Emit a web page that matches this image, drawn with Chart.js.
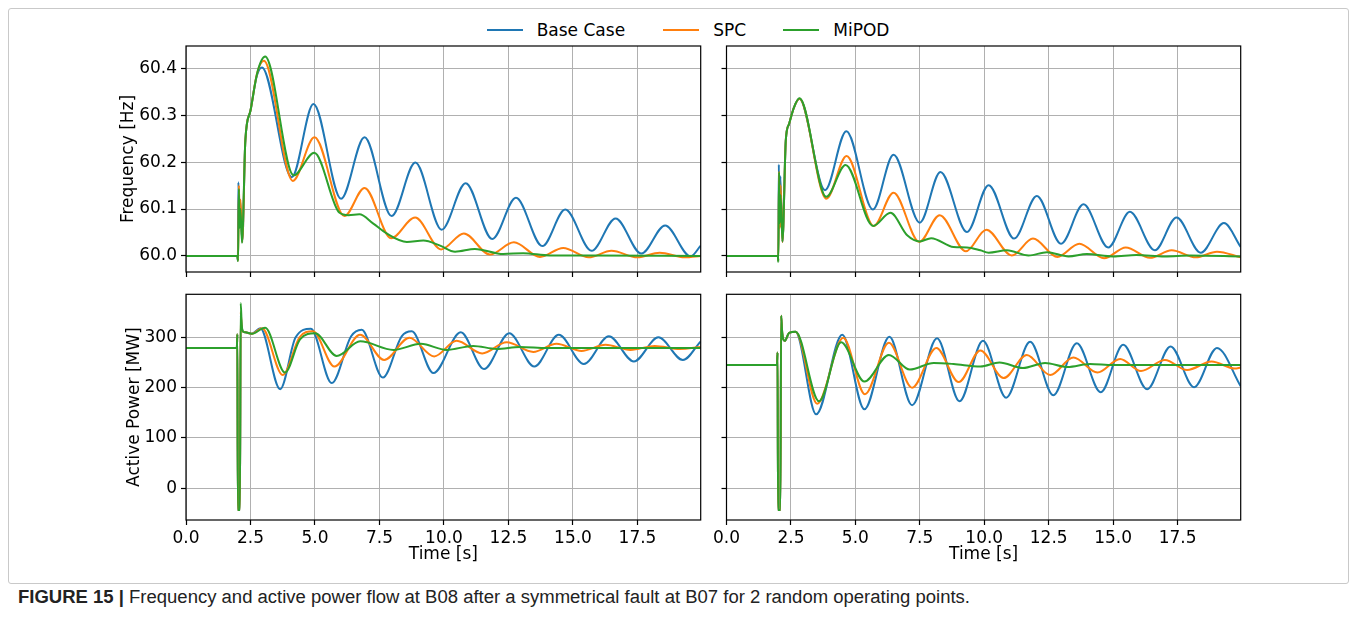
<!DOCTYPE html>
<html>
<head>
<meta charset="utf-8">
<title>Figure 15</title>
<script src="https://cdn.jsdelivr.net/npm/chart.js@4.4.1/dist/chart.umd.min.js"></script>
<style>
  html, body { margin: 0; padding: 0; background: #fff; }
  body { width: 1356px; height: 624px; position: relative; overflow: hidden; font-family: 'DejaVu Sans', sans-serif; }
  .box { position: absolute; left: 8px; top: 8px; width: 1339px; height: 574px; border: 1px solid #c9c9c9; border-radius: 3px; }
  .panel { position: absolute; }
  .leg { position: absolute; font-size: 17px; color: #000; line-height: 20px; top: 20px; white-space: nowrap; }
  .sw { position: absolute; top: 29px; width: 36px; height: 2px; }
  #caption { position: absolute; left: 18px; top: 587px; font-family: 'Liberation Sans', Arial, sans-serif; font-size: 18px; color: #222; white-space: nowrap; transform-origin: 0 0; }
</style>
</head>
<body>
<div class="box"></div>

<div class="sw" style="left:486.7px;background:#1f77b4"></div><div class="leg" style="left:536.7px">Base Case</div>
<div class="sw" style="left:663.3px;background:#ff7f0e"></div><div class="leg" style="left:713.3px">SPC</div>
<div class="sw" style="left:782.7px;background:#2ca02c"></div><div class="leg" style="left:833.3px">MiPOD</div>

<div class="panel" style="left:0px;top:30px"><canvas id="freqA" width="712" height="250"></canvas></div>
<div class="panel" style="left:712px;top:30px"><canvas id="freqB" width="540" height="250"></canvas></div>
<div class="panel" style="left:0px;top:280px"><canvas id="powerA" width="712" height="290"></canvas></div>
<div class="panel" style="left:712px;top:280px"><canvas id="powerB" width="540" height="290"></canvas></div>

<div id="caption"><b>FIGURE 15 |</b> Frequency and active power flow at B08 after a symmetrical fault at B07 for 2 random operating points.</div>

<script>
// series names / colours
var seriesNames = ['Base Case', 'SPC', 'MiPOD'];
var seriesColors = ['#1f77b4', '#ff7f0e', '#2ca02c'];

// tick labels
var timeTicks = [0, 2.5, 5, 7.5, 10, 12.5, 15, 17.5];
var freqTicks = [60.0, 60.1, 60.2, 60.3, 60.4];
var powerTicks = [0, 100, 200, 300];

// operating point A - frequency [Hz], pairs of [time s, value]
var freqA_base = [[0,60],[1.99,60],[2.01,59.99],[2.03,60.157],[2.07,60.07],[2.10,60.12],[2.18,60.03],[2.30,60.246],[2.50,60.31],[2.73,60.381],[2.94,60.402],
  [4.10,60.168],[4.94,60.324],[6.01,60.122],[6.92,60.253],[7.97,60.085],[8.89,60.199],[9.91,60.056],[10.84,60.155],[11.87,60.036],
  [12.79,60.124],[13.81,60.021],[14.70,60.099],[15.72,60.011],[16.65,60.080],[17.65,60.005],[18.57,60.065],[19.56,59.999],[19.95,60.022]];
var freqA_spc = [[0,60],[1.99,60],[2.02,59.99],[2.05,60.15],[2.08,60.08],[2.11,60.12],[2.18,60.03],[2.30,60.246],[2.50,60.31],[2.75,60.388],[3.02,60.416],
  [4.14,60.160],[4.98,60.253],[6.14,60.085],[6.92,60.145],[7.95,60.038],[8.88,60.082],[9.89,60.014],[10.77,60.048],[11.78,60.003],
  [12.71,60.029],[13.72,59.998],[14.62,60.017],[15.61,59.997],[16.49,60.011],[17.50,59.997],[18.36,60.007],[19.33,59.997],[19.95,60.0]];
var freqA_mipod = [[0,60],[1.99,60],[2.02,59.989],[2.05,60.143],[2.08,60.06],[2.11,60.10],[2.17,60.028],[2.30,60.246],[2.50,60.31],[2.77,60.392],[3.07,60.425],
  [4.17,60.172],[4.97,60.220],[5.95,60.092],[6.30,60.087],[6.72,60.089],[7.26,60.069],[7.78,60.048],[8.56,60.030],[9.20,60.033],[9.85,60.022],
  [10.43,60.009],[11.20,60.015],[12.30,60.004],[13.07,60.006],[14.10,60.001],[15.5,60.001],[19.95,60.0]];

// operating point B - frequency [Hz]
var freqB_base = [[0,60],[1.99,60],[2.01,59.99],[2.03,60.195],[2.06,60.06],[2.09,60.17],[2.17,60.03],[2.30,60.246],[2.43,60.282],[2.62,60.317],[2.83,60.335],
  [3.82,60.140],[4.65,60.266],[5.68,60.099],[6.48,60.216],[7.50,60.071],[8.30,60.179],[9.33,60.051],[10.17,60.151],[11.16,60.037],
  [12.04,60.128],[12.98,60.026],[13.85,60.110],[14.81,60.018],[15.65,60.094],[16.62,60.012],[17.46,60.082],[18.40,60.007],[19.30,60.070],[19.95,60.019]];
var freqB_spc = [[0,60],[1.99,60],[2.01,59.99],[2.04,60.18],[2.07,60.06],[2.10,60.15],[2.17,60.03],[2.30,60.246],[2.43,60.282],[2.62,60.317],[2.83,60.335],
  [3.87,60.122],[4.66,60.213],[5.71,60.064],[6.48,60.135],[7.48,60.030],[8.27,60.087],[9.29,60.010],[10.08,60.056],[11.07,60.001],
  [11.89,60.037],[12.84,59.998],[13.69,60.026],[14.65,59.995],[15.49,60.018],[16.43,59.996],[17.27,60.012],[18.21,59.997],[19.03,60.009],[19.95,59.997]];
var freqB_mipod = [[0,60],[1.99,60],[2.01,59.987],[2.04,60.179],[2.07,60.07],[2.10,60.13],[2.17,60.031],[2.30,60.246],[2.43,60.282],[2.62,60.317],[2.83,60.336],
  [3.87,60.126],[4.62,60.194],[5.69,60.064],[6.36,60.092],[7.01,60.044],[7.50,60.031],[7.94,60.038],[8.81,60.019],[9.33,60.018],[9.85,60.012],
  [10.17,60.007],[10.88,60.012],[11.72,60.001],[12.43,60.008],[13.27,59.999],[13.98,60.004],[15.0,59.999],[15.9,60.002],[17.0,59.999],[18.0,60.001],[19.95,59.999]];

// operating point A - active power [MW]
var powerA_base = [[0,279],[1.97,279],[1.99,306],[2.01,-43],[2.09,-43],[2.12,343],[2.16,320],[2.22,311],[2.30,310],[2.55,307],[2.88,318],
  [3.65,197],[4.25,300],[4.84,317],[5.65,209],[6.40,302],[6.81,315],[7.63,220],[8.36,302],[8.75,312],[9.59,229],[10.65,310],[11.55,237],
  [12.53,308],[13.50,242],[14.45,305],[15.42,247],[16.39,302],[17.36,252],[18.31,300],[19.26,255],[19.95,292]];
var powerA_spc = [[0,279],[1.97,279],[1.99,306],[2.01,-43],[2.09,-43],[2.12,350],[2.16,320],[2.22,311],[2.30,310],[2.55,307],[2.95,318],
  [3.75,225],[4.40,300],[4.92,312],[5.75,242],[6.75,305],[7.68,255],[8.66,299],[9.62,262],[10.49,293],[11.48,268],[12.43,290],
  [13.46,271],[14.36,287],[15.33,273],[16.26,285],[17.23,275],[18.17,283],[19.14,277],[19.95,281]];
var powerA_mipod = [[0,279],[1.97,279],[1.99,306],[2.01,-43],[2.09,-43],[2.12,368],[2.16,325],[2.22,311],[2.30,310],[2.55,307],[3.07,319],
  [3.84,230],[4.42,296],[5.01,308],[5.84,263],[6.75,292],[8.04,275],[9.10,287],[10.10,275],[11.13,283],[12.04,277],[12.94,281],[14.0,279],[19.95,279]];

// operating point B - active power [MW]
var powerB_base = [[0,245],[1.96,245],[1.98,270],[2.00,-43],[2.09,-43],[2.12,343],[2.16,310],[2.26,293],[2.43,309],[2.68,311],
  [3.48,147],[4.49,305],[5.35,157],[6.32,301],[7.20,165],[8.17,298],[9.04,173],[9.95,293],[10.85,180],[11.78,291],[12.68,185],
  [13.59,288],[14.52,191],[15.39,285],[16.32,197],[17.23,282],[18.14,201],[19.03,279],[19.95,203]];
var powerB_spc = [[0,245],[1.96,245],[1.98,270],[2.00,-43],[2.09,-43],[2.12,343],[2.16,310],[2.26,293],[2.43,309],[2.68,311],
  [3.52,168],[4.53,299],[5.37,187],[6.30,289],[7.20,200],[8.14,279],[9.01,211],[9.85,274],[10.75,219],[11.65,265],[12.56,225],
  [13.46,260],[14.39,230],[15.27,257],[16.08,233],[17.01,255],[17.87,235],[18.82,252],[19.72,238],[19.95,240]];
var powerB_mipod = [[0,245],[1.96,245],[1.98,270],[2.00,-43],[2.09,-43],[2.12,343],[2.16,310],[2.26,293],[2.43,309],[2.68,311],
  [3.59,173],[4.45,290],[5.35,212],[6.30,265],[7.11,236],[8.04,249],[8.81,247],[9.85,242],[10.59,250],[11.50,239],[12.36,249],
  [13.23,241],[14.10,247],[15.0,245],[19.95,245]];

Chart.defaults.font.family = "'DejaVu Sans', sans-serif";
Chart.defaults.font.size = 17;
Chart.defaults.color = '#000';

// black box round every axes, like the matplotlib spines
var spines = {
    id: 'spines',
    afterDatasetsDraw: function (chart) {
        var a = chart.chartArea, ctx = chart.ctx;
        ctx.save();
        ctx.strokeStyle = '#000';
        ctx.lineWidth = 1.2;
        ctx.strokeRect(a.left, a.top, a.right - a.left, a.bottom - a.top);
        ctx.restore();
    }
};

function toXY(arr) {
    return arr.map(function (p) { return { x: p[0], y: p[1] }; });
}

function makePanel(id, series, cfg) {
    var datasets = series.map(function (s, i) {
        return {
            label: seriesNames[i],
            data: toXY(s),
            borderColor: seriesColors[i],
            borderWidth: 2,
            pointRadius: 0,
            fill: false,
            cubicInterpolationMode: 'monotone',
            order: 3 - i
        };
    });
    return new Chart(document.getElementById(id), {
        type: 'line',
        data: { datasets: datasets },
        plugins: [spines],
        options: {
            responsive: false,
            devicePixelRatio: 1,
            animation: false,
            events: [],
            layout: { padding: cfg.padding },
            plugins: { legend: { display: false }, tooltip: { enabled: false } },
            scales: {
                x: {
                    type: 'linear',
                    min: 0,
                    max: 19.95,
                    afterBuildTicks: function (s) { s.ticks = timeTicks.map(function (v) { return { value: v }; }); },
                    afterFit: function (s) { s.height = cfg.xHeight; s.paddingLeft = 0; s.paddingRight = 0; },
                    ticks: {
                        autoSkip: false, maxRotation: 0, padding: 3,
                        callback: function (v) { return cfg.xLabels ? v.toFixed(1) : ''; }
                    },
                    grid: { color: '#b0b0b0', lineWidth: 1, tickLength: 5, tickColor: '#000', tickWidth: 1.2 },
                    border: { display: false },
                    title: { display: !!cfg.xTitle, text: cfg.xTitle || '', padding: { top: 0, bottom: 5 } }
                },
                y: {
                    type: 'linear',
                    min: cfg.yMin,
                    max: cfg.yMax,
                    afterBuildTicks: function (s) { s.ticks = cfg.yTicks.map(function (v) { return { value: v }; }); },
                    afterFit: function (s) { s.width = cfg.yWidth; s.paddingTop = 0; s.paddingBottom = 0; },
                    ticks: {
                        autoSkip: false, padding: 4,
                        callback: function (v) { return cfg.yLabels ? cfg.yFmt(v) : ''; }
                    },
                    grid: { color: '#b0b0b0', lineWidth: 1, tickLength: 5, tickColor: '#000', tickWidth: 1.2 },
                    border: { display: false },
                    title: { display: !!cfg.yTitle, text: cfg.yTitle || '', padding: { top: cfg.yTitlePad || 0, bottom: 0 } }
                }
            }
        }
    });
}

var fmtFreq = function (v) { return v.toFixed(1); };
var fmtPower = function (v) { return String(Math.round(v)); };

makePanel('freqA', [freqA_base, freqA_spc, freqA_mipod], {
    padding: { left: 100, top: 16, right: 11.3, bottom: 0 },
    xHeight: 8, yWidth: 86, xLabels: false, yLabels: true,
    yMin: 59.9658, yMax: 60.4476, yTicks: freqTicks, yFmt: fmtFreq,
    yTitle: 'Frequency [Hz]', yTitlePad: 18
});
makePanel('freqB', [freqB_base, freqB_spc, freqB_mipod], {
    padding: { left: 0, top: 16, right: 11.3, bottom: 0 },
    xHeight: 8, yWidth: 14.5, xLabels: false, yLabels: false,
    yMin: 59.9658, yMax: 60.4476, yTicks: freqTicks, yFmt: fmtFreq
});
makePanel('powerA', [powerA_base, powerA_spc, powerA_mipod], {
    padding: { left: 100, top: 14.3, right: 11.3, bottom: 0 },
    xHeight: 50, yWidth: 86, xLabels: true, yLabels: true,
    yMin: -63, yMax: 385.5, yTicks: powerTicks, yFmt: fmtPower,
    yTitle: 'Active Power [MW]', yTitlePad: 24.5, xTitle: 'Time [s]'
});
makePanel('powerB', [powerB_base, powerB_spc, powerB_mipod], {
    padding: { left: 0, top: 14.3, right: 11.3, bottom: 0 },
    xHeight: 50, yWidth: 14.5, xLabels: true, yLabels: false,
    yMin: -63, yMax: 385.5, yTicks: powerTicks, yFmt: fmtPower,
    xTitle: 'Time [s]'
});

// squeeze the caption to the width it has in the figure
var cap = document.getElementById('caption');
var capW = cap.getBoundingClientRect().width;
cap.style.transform = 'scaleX(' + (952 / capW) + ')';
</script>
</body>
</html>
